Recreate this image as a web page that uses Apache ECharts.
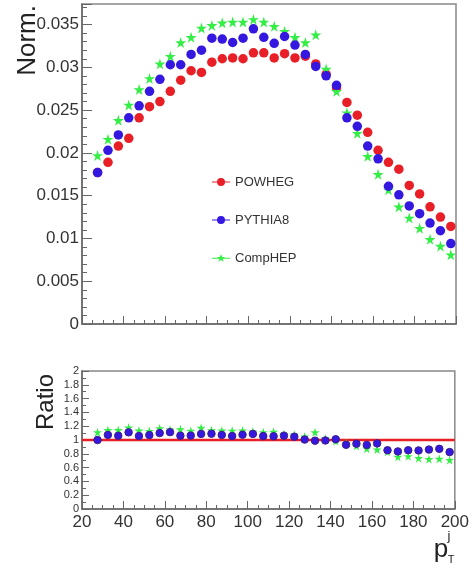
<!DOCTYPE html>
<html>
<head>
<meta charset="utf-8">
<script src="https://cdn.jsdelivr.net/npm/echarts@6/dist/echarts.min.js"></script>
<style>html,body{margin:0;padding:0;background:#fff;}#c{width:472px;height:572px;}</style>
</head>
<body>
<div id="c"></div>
<script>
// bin centres (GeV)
const ptBins = [27.5,32.5,37.5,42.5,47.5,52.5,57.5,62.5,67.5,72.5,77.5,82.5,87.5,92.5,97.5,102.5,107.5,112.5,117.5,122.5,127.5,132.5,137.5,142.5,147.5,152.5,157.5,162.5,167.5,172.5,177.5,182.5,187.5,192.5,197.5];
const powheg = [0.0177,0.0189,0.0208,0.0217,0.0241,0.0254,0.0260,0.0272,0.0285,0.0296,0.0294,0.0306,0.0310,0.0311,0.0310,0.0317,0.0317,0.0311,0.0316,0.0311,0.0313,0.0304,0.0292,0.0276,0.0259,0.0244,0.0224,0.0203,0.0189,0.0181,0.0162,0.0152,0.0137,0.0125,0.0114];
const pythia8 = [0.0177,0.0203,0.0221,0.0241,0.0255,0.0272,0.0286,0.0303,0.0303,0.0315,0.0320,0.0334,0.0333,0.0329,0.0334,0.0345,0.0335,0.0328,0.0336,0.0326,0.0315,0.0301,0.0290,0.0279,0.0241,0.0231,0.0208,0.0193,0.0161,0.0151,0.0138,0.0129,0.0118,0.0109,0.0094];
const comphep = [0.0197,0.0216,0.0238,0.0256,0.0274,0.0287,0.0304,0.0313,0.0329,0.0335,0.0346,0.0349,0.0352,0.0353,0.0353,0.0356,0.0353,0.0348,0.0342,0.0335,0.0329,0.0338,0.0298,0.0272,0.0247,0.0223,0.0196,0.0175,0.0157,0.0137,0.0124,0.0112,0.0099,0.0091,0.0081];
const xTicks = [20,40,60,80,100,120,140,160,180,200];
const normTicks = [0,0.005,0.01,0.015,0.02,0.025,0.03,0.035];
const ratioTicks = [0,0.2,0.4,0.6,0.8,1,1.2,1.4,1.6,1.8,2];
const seriesNames = ['POWHEG','PYTHIA8','CompHEP'];

const RED = '#e81f26', BLUE = '#3418e0', GREEN = '#33ee44';
const STAR = 'path://M50,0 L61,35 L98,35 L68,57 L79,91 L50,70 L21,91 L32,57 L2,35 L39,35 Z';
const iconCircle = 'path://M0,7 L36,7 L36,9 L0,9 Z M26,8 A8,8 0 1 1 10,8 A8,8 0 1 1 26,8 Z';
const iconStar = 'path://M0,7 L36,7 L36,9 L0,9 Z M18,0 L20.4,5.6 L26,5.6 L21.5,9.1 L23.2,15 L18,11.4 L12.8,15 L14.5,9.1 L10,5.6 L15.6,5.6 Z';

const zip = (ys) => ptBins.map((x, i) => [x, ys[i]]);
const ratio = (ys) => ptBins.map((x, i) => [x, ys[i] / powheg[i]]);

const FONT = "'Liberation Sans', Arial, Helvetica, sans-serif";
const AX = '#666';
const TXT = '#333';

function xAxisCfg(gridIndex, showLabel) {
  return {
    type: 'value', gridIndex, min: xTicks[0], max: xTicks[xTicks.length-1], interval: 20,
    axisLine: {show: true, onZero: false, lineStyle: {color: AX, width: 1.5}},
    axisTick: {show: true, inside: true, length: 8, lineStyle: {color: AX}},
    minorTick: {show: true, splitNumber: 4, length: 4, lineStyle: {color: AX}},
    axisLabel: {show: showLabel, color: TXT, fontSize: 17, fontFamily: FONT, margin: 5},
    splitLine: {show: false}
  };
}

const chart = echarts.init(document.getElementById('c'), null, {renderer: 'canvas'});
chart.setOption({
  animation: false,
  backgroundColor: '#fff',
  grid: [
    {left: 82, right: 16, top: 4, bottom: 248, show: true, borderColor: '#888', borderWidth: 1.5},
    {left: 82, right: 16, top: 371, bottom: 63, show: true, borderColor: '#888', borderWidth: 1.5}
  ],
  xAxis: [xAxisCfg(0, false), xAxisCfg(1, true)],
  yAxis: [
    {
      type: 'value', gridIndex: 0, min: normTicks[0], max: 0.0374, interval: 0.005,
      axisLine: {show: true, lineStyle: {color: AX, width: 1.5}},
      axisTick: {show: true, inside: true, length: 10, lineStyle: {color: AX}},
      minorTick: {show: true, splitNumber: 5, length: 5, lineStyle: {color: AX}},
      axisLabel: {color: TXT, fontSize: 17, fontFamily: FONT, margin: 3,
        formatter: function (v) {
          const k = v / 0.005;
          if (Math.abs(k - Math.round(k)) > 1e-6) return '';
          return String(+v.toFixed(3));
        }},
      splitLine: {show: false}
    },
    {
      type: 'value', gridIndex: 1, min: ratioTicks[0], max: ratioTicks[ratioTicks.length-1], interval: 0.2,
      axisLine: {show: true, lineStyle: {color: AX, width: 1.5}},
      axisTick: {show: true, inside: true, length: 7, lineStyle: {color: AX}},
      minorTick: {show: true, splitNumber: 2, length: 4, lineStyle: {color: AX}},
      axisLabel: {color: TXT, fontSize: 11, fontFamily: FONT, margin: 3,
        formatter: function (v) { return String(+v.toFixed(1)); }},
      splitLine: {show: false}
    }
  ],
  legend: {
    orient: 'vertical', left: 207, top: 170, itemWidth: 18, itemHeight: 8, itemGap: 24,
    textStyle: {color: TXT, fontSize: 13, fontFamily: FONT, lineHeight: 14},
    data: [
      {name: seriesNames[0], icon: iconCircle},
      {name: seriesNames[1], icon: iconCircle},
      {name: seriesNames[2], icon: iconStar}
    ]
  },
  series: [
    {name: seriesNames[0], type: 'scatter', xAxisIndex: 0, yAxisIndex: 0, data: zip(powheg),
      symbol: 'circle', symbolSize: 9.5, itemStyle: {color: RED, opacity: 1}, z: 3},
    {name: seriesNames[2], type: 'scatter', xAxisIndex: 0, yAxisIndex: 0, data: zip(comphep),
      symbol: STAR, symbolSize: 11, itemStyle: {color: GREEN, opacity: 1}, z: 4},
    {name: seriesNames[1], type: 'scatter', xAxisIndex: 0, yAxisIndex: 0, data: zip(pythia8),
      symbol: 'circle', symbolSize: 9.5, itemStyle: {color: BLUE, opacity: 1}, z: 5},
    {name: 'ref', type: 'line', xAxisIndex: 1, yAxisIndex: 1, data: [[xTicks[0], 1], [xTicks[xTicks.length-1], 1]],
      symbol: 'none', lineStyle: {color: RED, width: 2.5}, z: 2, silent: true},
    {name: 'rC', type: 'scatter', xAxisIndex: 1, yAxisIndex: 1, data: ratio(comphep),
      symbol: STAR, symbolSize: 9, itemStyle: {color: GREEN, opacity: 1}, z: 3},
    {name: 'rP', type: 'scatter', xAxisIndex: 1, yAxisIndex: 1, data: ratio(pythia8),
      symbol: 'circle', symbolSize: 7.5, itemStyle: {color: BLUE, borderColor: '#3d1d8a', borderWidth: 1, opacity: 1}, z: 4}
  ],
  graphic: [
    {type: 'text', x: 28, y: 5, rotation: Math.PI / 2,
      style: {text: 'Norm.', fill: '#222', font: "26px " + FONT, textAlign: 'right', textVerticalAlign: 'middle'}},
    {type: 'text', x: 46, y: 402, rotation: Math.PI / 2,
      style: {text: 'Ratio', fill: '#222', font: "24px " + FONT, textAlign: 'center', textVerticalAlign: 'middle'}},
    {type: 'text', x: 441, y: 550,
      style: {text: 'p', fill: '#222', font: "26px " + FONT, textAlign: 'center', textVerticalAlign: 'middle'}},
    {type: 'text', x: 449, y: 536,
      style: {text: 'j', fill: '#222', font: "13px " + FONT, textAlign: 'center', textVerticalAlign: 'middle'}},
    {type: 'text', x: 451, y: 560,
      style: {text: 'T', fill: '#222', font: "11px " + FONT, textAlign: 'center', textVerticalAlign: 'middle'}}
  ]
});
</script>
</body>
</html>
